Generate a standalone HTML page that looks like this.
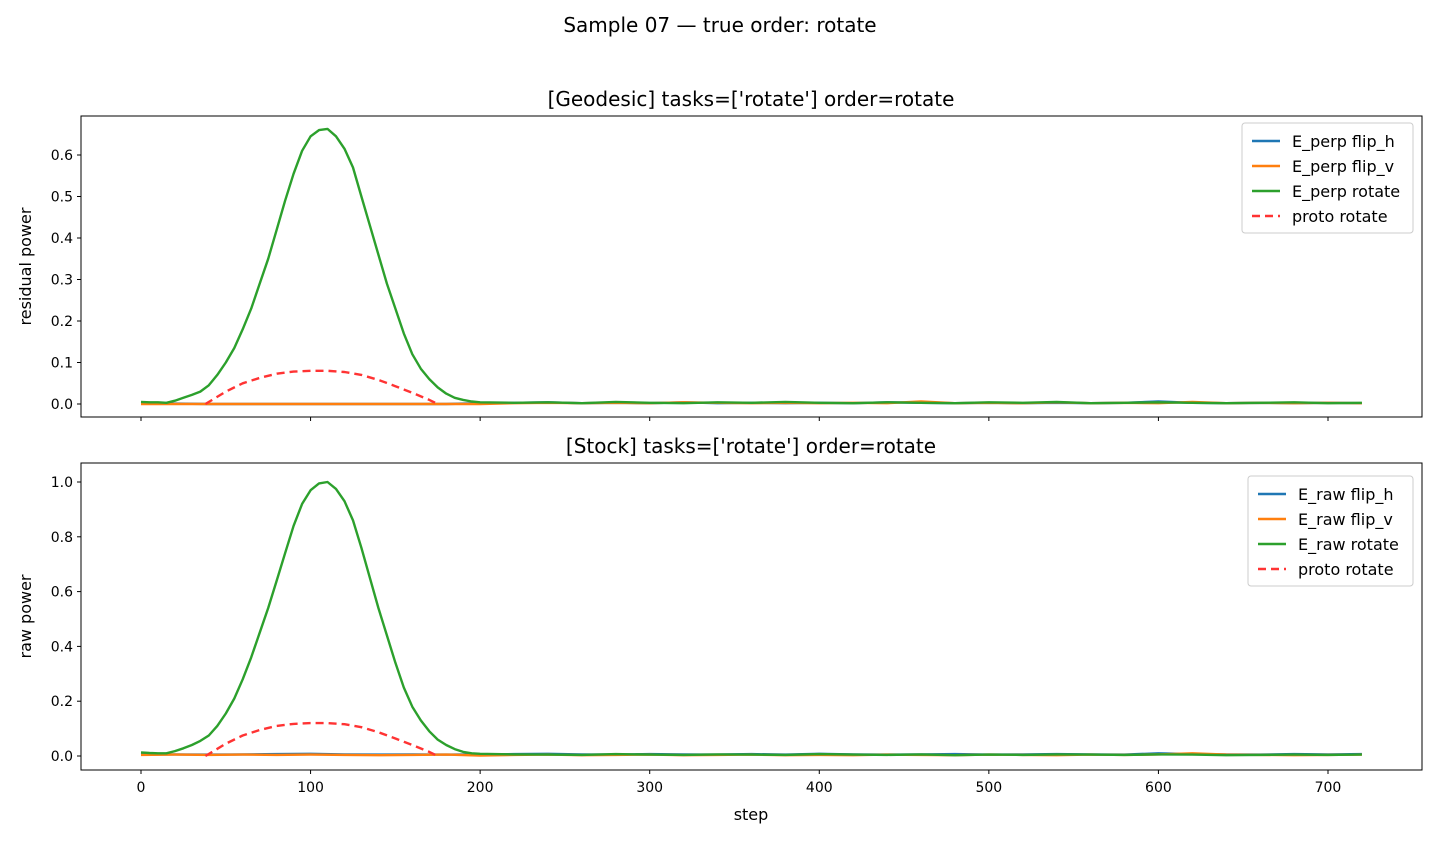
<!DOCTYPE html>
<html><head><meta charset="utf-8"><style>
body{margin:0;background:#fff;}
svg text{font-family:"DejaVu Sans","Liberation Sans",sans-serif;fill:#000;}
</style></head><body>
<svg id="chart" width="1440" height="840" xmlns="http://www.w3.org/2000/svg"></svg>
<script>
const xTicks=[0,100,200,300,400,500,600,700];
const topYTicks=[0.0,0.1,0.2,0.3,0.4,0.5,0.6];
const botYTicks=[0.0,0.2,0.4,0.6,0.8,1.0];
const peakSteps=[0,5,10,15,20,25,30,35,40,45,50,55,60,65,70,75,80,85,90,95,100,105,110,115,120,125,130,135,140,145,150,155,160,165,170,175,180,185,190,195,200];
const tailSteps=[220,240,260,280,300,320,340,360,380,400,420,440,460,480,500,520,540,560,580,600,620,640,660,680,700,720];
const topGreenPeak=[0.005,0.004,0.004,0.003,0.008,0.015,0.022,0.03,0.045,0.07,0.1,0.135,0.18,0.23,0.29,0.35,0.42,0.49,0.555,0.61,0.645,0.66,0.663,0.645,0.615,0.57,0.5,0.43,0.36,0.29,0.23,0.17,0.12,0.085,0.06,0.04,0.025,0.015,0.01,0.006,0.004];
const topGreenTail=[0.003,0.004,0.002,0.005,0.003,0.002,0.004,0.003,0.005,0.003,0.002,0.004,0.003,0.002,0.004,0.003,0.005,0.002,0.003,0.004,0.003,0.002,0.003,0.004,0.002,0.003];
const botGreenPeak=[0.013,0.011,0.01,0.01,0.018,0.028,0.04,0.055,0.075,0.11,0.155,0.21,0.28,0.36,0.45,0.54,0.64,0.74,0.84,0.92,0.97,0.995,1.0,0.975,0.93,0.86,0.76,0.65,0.54,0.44,0.34,0.25,0.18,0.13,0.09,0.06,0.04,0.025,0.015,0.01,0.008];
const botGreenTail=[0.006,0.005,0.004,0.007,0.005,0.004,0.006,0.005,0.004,0.007,0.005,0.004,0.006,0.003,0.005,0.004,0.006,0.005,0.004,0.006,0.005,0.003,0.004,0.005,0.004,0.005];
const protoSteps=[38,50,60,70,80,90,100,110,120,130,140,150,160,170,175];
const topProto=[0,0.03,0.05,0.063,0.073,0.078,0.08,0.08,0.077,0.07,0.058,0.043,0.027,0.01,0];
const botProto=[0,0.045,0.075,0.095,0.11,0.117,0.12,0.12,0.116,0.105,0.087,0.064,0.04,0.015,0];
const noiseSteps=[0,20,40,60,80,100,120,140,160,180,200,220,240,260,280,300,320,340,360,380,400,420,440,460,480,500,520,540,560,580,600,620,640,660,680,700,720];
const topBlue=[0.002,0.001,0,0,0,0,0,0,0,0,0.002,0.003,0.004,0.002,0.003,0.002,0.004,0.002,0.003,0.002,0.003,0.002,0.004,0.003,0.002,0.003,0.002,0.003,0.002,0.003,0.006,0.003,0.002,0.003,0.002,0.003,0.002];
const topOrange=[0,0,0,0,0,0,0,0,0,0,0,0.002,0.003,0.002,0.003,0.002,0.004,0.003,0.002,0.003,0.002,0.003,0.002,0.006,0.002,0.003,0.002,0.004,0.002,0.003,0.002,0.005,0.002,0.003,0.002,0.003,0.002];
const botBlue=[0.005,0.006,0.005,0.006,0.007,0.008,0.006,0.005,0.006,0.005,0.006,0.007,0.008,0.006,0.005,0.007,0.006,0.005,0.007,0.005,0.008,0.006,0.005,0.006,0.007,0.005,0.006,0.007,0.006,0.005,0.01,0.007,0.006,0.005,0.007,0.006,0.007];
const botOrange=[0.004,0.005,0.004,0.005,0.004,0.005,0.004,0.003,0.004,0.005,0.002,0.004,0.005,0.003,0.004,0.005,0.003,0.004,0.005,0.003,0.004,0.003,0.005,0.004,0.003,0.005,0.004,0.003,0.005,0.004,0.006,0.01,0.005,0.004,0.003,0.004,0.005];

const svg=document.getElementById('chart');
const NS='http://www.w3.org/2000/svg';
function el(tag,attrs,parent){const e=document.createElementNS(NS,tag);for(const k in attrs)e.setAttribute(k,attrs[k]);(parent||svg).appendChild(e);return e;}
const xS=v=>141+v*1.6957;
const panels=[
 {top:116,bot:417,y0:404,per:415,title:"[Geodesic] tasks=['rotate'] order=rotate",ylab:"residual power",ticks:topYTicks,
  green:[peakSteps.concat(tailSteps),topGreenPeak.concat(topGreenTail)],proto:topProto,blue:topBlue,orange:topOrange,
  leg:["E_perp flip_h","E_perp flip_v","E_perp rotate","proto rotate"],lx:1242,lw:171,ly:123,name:'geodesic'},
 {top:463,bot:770,y0:756,per:274,title:"[Stock] tasks=['rotate'] order=rotate",ylab:"raw power",ticks:botYTicks,
  green:[peakSteps.concat(tailSteps),botGreenPeak.concat(botGreenTail)],proto:botProto,blue:botBlue,orange:botOrange,
  leg:["E_raw flip_h","E_raw flip_v","E_raw rotate","proto rotate"],lx:1248,lw:165,ly:476,name:'stock'}
];
let t=el('text',{x:720,y:32,'text-anchor':'middle','font-size':20});t.textContent='Sample 07 — true order: rotate';


panels.forEach((p,pi)=>{
 const g=el('g',{});
 
 
 const yS=v=>p.y0-v*p.per;
 const clip=el('clipPath',{id:'c'+pi},g);el('rect',{x:81,y:p.top,width:1341,height:p.bot-p.top},clip);
 p.ticks.forEach(v=>{const y=yS(v);el('line',{x1:77,x2:81,y1:y,y2:y,stroke:'#000'},g);
  const tt=el('text',{x:73,y:y+5,'text-anchor':'end','font-size':14},g);tt.textContent=v.toFixed(1);
  
  });
 xTicks.forEach(v=>{const x=xS(v);el('line',{x1:x,x2:x,y1:p.bot,y2:p.bot+4,stroke:'#000'},g);
  if(pi==1){const tt=el('text',{x:x,y:p.bot+22,'text-anchor':'middle','font-size':14},g);tt.textContent=v;
  
  }});
 const yl=el('text',{x:0,y:0,transform:`translate(31,${(p.top+p.bot)/2}) rotate(-90)`,'text-anchor':'middle','font-size':16},g);yl.textContent=p.ylab;
 
 
 const ti=el('text',{x:751,y:p.top-10,'text-anchor':'middle','font-size':20},g);ti.textContent=p.title;
 
 
 const lines=el('g',{'clip-path':`url(#c${pi})`},g);
 const path=(xs,ys,col,dash)=>{const d=xs.map((s,i)=>(i?'L':'M')+xS(s).toFixed(1)+','+yS(ys[i]).toFixed(1)).join('');
  const e=el('path',{d:d,fill:'none',stroke:col,'stroke-width':2.4,'stroke-dasharray':dash||'none','stroke-linejoin':'round'},lines);return e;};
 let e=path(noiseSteps,p.blue,'#1f77b4');
 e=path(noiseSteps,p.orange,'#ff7f0e');
 e=path(p.green[0],p.green[1],'#2ca02c');
 e=path(protoSteps,p.proto,'#ff3333','8,5');
 el('rect',{x:81,y:p.top,width:1341,height:p.bot-p.top,fill:'none',stroke:'#000','stroke-width':1},g);
 if(pi==1){const xl=el('text',{x:751,y:820,'text-anchor':'middle','font-size':16},g);xl.textContent='step';
  
  }
 const lg=el('g',{},g);
 
 
 el('rect',{x:p.lx,y:p.ly,width:p.lw,height:110,rx:3,fill:'#fff','fill-opacity':0.8,stroke:'#ccc'},lg);
 const cols=['#1f77b4','#ff7f0e','#2ca02c','#ff3333'];
 p.leg.forEach((l,i)=>{const y=p.ly+18+i*25;
  el('line',{x1:p.lx+10,x2:p.lx+38,y1:y,y2:y,stroke:cols[i],'stroke-width':2.4,'stroke-dasharray':i==3?'8,5':'none'},lg);
  const tt=el('text',{x:p.lx+50,y:y+6,'font-size':16},lg);tt.textContent=l;
  
  });
});
</script>
</body></html>
